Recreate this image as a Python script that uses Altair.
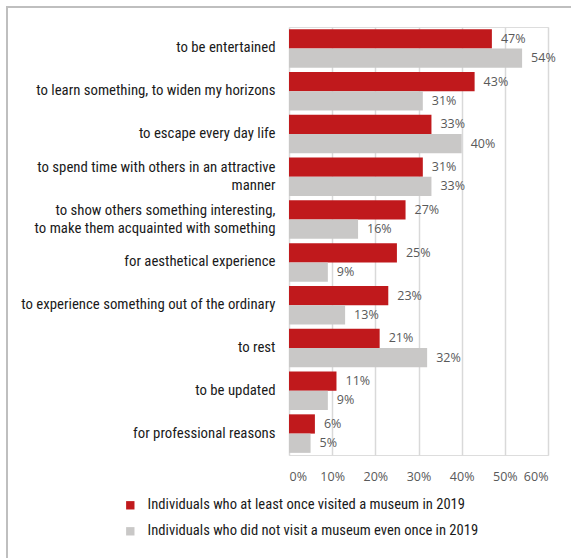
import altair as alt
import pandas as pd

categories = [
    "to be entertained",
    "to learn something, to widen my horizons",
    "to escape every day life",
    "to spend time with others in an attractive\nmanner",
    "to show others something interesting,\nto make them acquainted with something",
    "for aesthetical experience",
    "to experience something out of the ordinary",
    "to rest",
    "to be updated",
    "for professional reasons",
]
visited = [47, 43, 33, 31, 27, 25, 23, 21, 11, 6]
not_visited = [54, 31, 40, 33, 16, 9, 13, 32, 9, 5]
series = [
    "Individuals who at least once visited a museum in 2019",
    "Individuals who did not visit a museum even once in 2019",
]
colors = ["#c0191c", "#c9c8c7"]
x_ticks = [0, 0.1, 0.2, 0.3, 0.4, 0.5, 0.6]

rows = []
for c, a, b in zip(categories, visited, not_visited):
    rows.append({"category": c, "series": series[0], "value": a / 100})
    rows.append({"category": c, "series": series[1], "value": b / 100})
df = pd.DataFrame(rows)

W, H = 259, 428
FONT = "Liberation Sans Narrow, Roboto Condensed, Roboto"

base = alt.Chart(df).encode(
    y=alt.Y(
        "category:N",
        sort=categories,
        scale=alt.Scale(paddingInner=0.1, paddingOuter=0.05),
        axis=alt.Axis(
            title=None,
            labelExpr="split(datum.label, '\\n')",
            labelLineHeight=18,
            labelOffset={"condition": {"test": "indexof(datum.label, '\\n') >= 0", "value": -9}, "value": 0},
            labelFont=FONT,
            labelFontSize=14.8,
            labelColor="#1a1a1a",
            labelPadding=14,
            domain=False,
            ticks=False,
            grid=False,
            labelLimit=400,
        ),
    ),
    yOffset=alt.YOffset("series:N", sort=series),
)

bars = base.mark_bar().encode(
    x=alt.X(
        "value:Q",
        scale=alt.Scale(domain=[0, 0.6], nice=False),
        axis=alt.Axis(
            title=None,
            format=".0%",
            values=x_ticks,
            domain=False,
            ticks=False,
            grid=True,
            gridColor="#d9d9d9",
            gridWidth=1.5,
            labelFont="Open Sans",
            labelFontSize=12.5,
            labelColor="#595959",
            labelPadding=15,
        ),
    ),
    color=alt.Color(
        "series:N",
        sort=series,
        scale=alt.Scale(domain=series, range=colors),
        legend=alt.Legend(
            title=None,
            orient="none",
            legendX=-166,
            legendY=43 + H,
            direction="vertical",
            symbolType="square",
            symbolSize=70,
            symbolStrokeWidth=0,
            labelFont=FONT,
            labelFontSize=14.6,
            labelColor="#1a1a1a",
            labelOffset=10,
            rowPadding=11,
            padding=0,
            labelLimit=500,
        ),
    ),
)

text = base.mark_text(
    align="left", baseline="middle", dx=9, font="Open Sans", fontSize=12.5, color="#595959"
).encode(
    x="value:Q",
    text=alt.Text("value:Q", format=".0%"),
)

frame_df = pd.DataFrame({"k": [0]})
frame_left = alt.Chart(frame_df).mark_rule(color="#bfbfbf", strokeWidth=2).encode(
    x=alt.value(-282), y=alt.value(-20), y2=alt.value(H + 200)
)
frame_top = alt.Chart(frame_df).mark_rule(color="#bfbfbf", strokeWidth=2).encode(
    x=alt.value(-283), x2=alt.value(W + 40), y=alt.value(-20)
)

chart = (
    alt.layer(bars, text, frame_left, frame_top)
    .properties(
        width=W,
        height=H,
        autosize=alt.AutoSizeParams(type="none"),
        padding={"left": 289, "top": 27, "right": 23, "bottom": 103},
    )
    .configure_view(stroke=None)
    .configure(background="white")
)

chart.save("out.html", embed_options={"renderer": "svg", "actions": False})
